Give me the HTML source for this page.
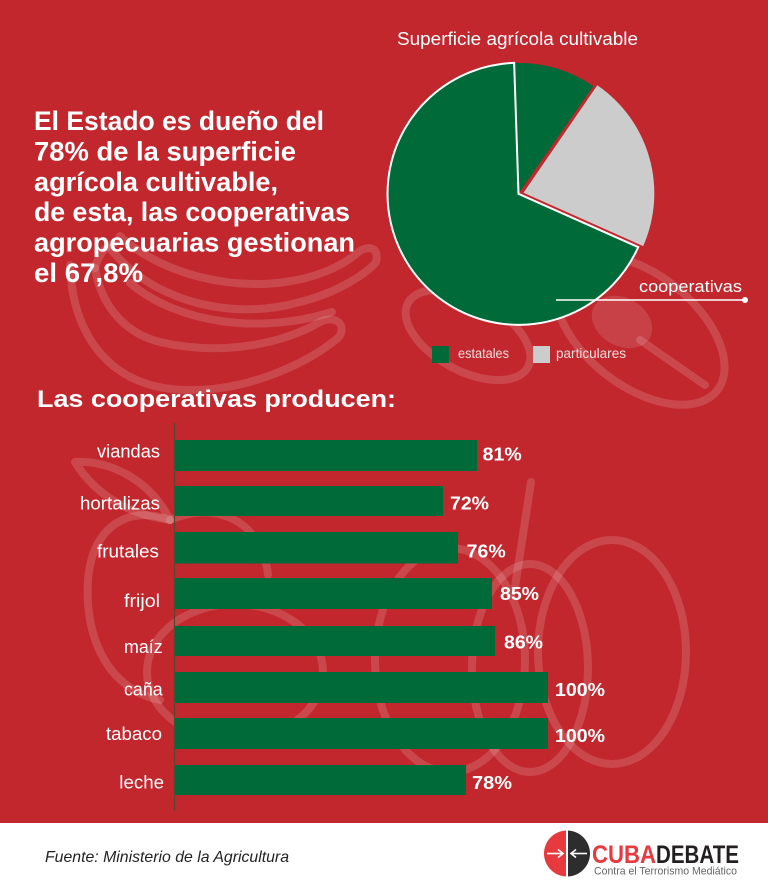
<!DOCTYPE html>
<html><head><meta charset="utf-8"><style>
html,body{margin:0;padding:0;background:#fff;}
svg{display:block;}
</style></head><body>
<svg width="768" height="889" viewBox="0 0 768 889" xmlns="http://www.w3.org/2000/svg" font-family="'Liberation Sans', sans-serif">
<rect x="0" y="0" width="768" height="823" fill="#c1272d"/>
<rect x="0" y="823" width="768" height="66" fill="#ffffff"/>

<!-- background illustrations -->
<g fill="none" stroke="#ffffff" stroke-opacity="0.15" stroke-width="8" stroke-linecap="round" stroke-linejoin="round">
  <!-- bananas -->
  <path d="M70,265 C72,335 110,388 185,390 C245,392 305,365 338,338 C348,326 336,314 320,322 C280,345 220,356 160,342 C120,332 100,300 95,268"/>
  <path d="M110,248 C150,300 230,322 300,302 C340,292 368,272 376,262 C380,246 366,244 355,255 C320,282 260,292 200,277 C160,267 132,248 120,236"/>
  <path d="M130,283 C180,325 262,334 332,312"/>
  <path d="M95,268 C100,250 108,245 115,243"/>
  <!-- avocado / right shapes -->
  <ellipse cx="468" cy="335" rx="68" ry="36" transform="rotate(28 468 335)"/>
  <ellipse cx="640" cy="330" rx="98" ry="56" transform="rotate(38 640 330)"/>
  <line x1="640" y1="340" x2="705" y2="385"/>
  <!-- apple -->
  <path d="M75,462 C110,460 150,480 170,520 C130,515 95,495 75,462 Z"/>
  <path d="M170,520 C130,505 92,525 88,580 C84,640 110,690 160,700"/>
  <path d="M170,520 C215,500 262,520 268,575"/>
  <!-- tomato -->
  <ellipse cx="235" cy="672" rx="88" ry="68"/>
  <path d="M200,652 C220,642 250,642 270,652"/>
  <!-- pumpkin -->
  <path d="M531,482 L515,587"/>
  <ellipse cx="450" cy="660" rx="75" ry="112"/>
  <ellipse cx="612" cy="652" rx="74" ry="112"/>
  <ellipse cx="530" cy="668" rx="58" ry="104"/>
</g>
<ellipse cx="622" cy="322" rx="32" ry="24" fill="#ffffff" fill-opacity="0.12" transform="rotate(30 622 322)"/>

<!-- headline -->
<g fill="#ffffff" font-weight="bold" font-size="27">
  <text x="34" y="130" textLength="290" lengthAdjust="spacingAndGlyphs">El Estado es dueño del</text>
  <text x="34" y="160.5" textLength="262" lengthAdjust="spacingAndGlyphs">78% de la superficie</text>
  <text x="34" y="191" textLength="244" lengthAdjust="spacingAndGlyphs">agrícola cultivable,</text>
  <text x="34" y="221" textLength="316" lengthAdjust="spacingAndGlyphs">de esta, las cooperativas</text>
  <text x="34" y="251.5" textLength="321" lengthAdjust="spacingAndGlyphs">agropecuarias gestionan</text>
  <text x="34" y="282" textLength="109" lengthAdjust="spacingAndGlyphs">el 67,8%</text>
</g>

<!-- pie -->
<text x="397" y="45" font-size="18" fill="#ffffff" textLength="241" lengthAdjust="spacingAndGlyphs">Superficie agrícola cultivable</text>
<path d="M518.5,193.8 L514.15,62.9 A131,131 0 0 1 593.3,86.2 Z" fill="#006a39"/>
<path d="M523.5,192.8 L597.3,85.2 A131,131 0 0 1 643.2,246.1 Z" fill="#cccccc"/>
<path d="M518.5,193.8 L638.2,247.1 A131,131 0 1 1 514.15,62.9 Z" fill="#006a39" stroke="#ffffff" stroke-width="2" stroke-linejoin="miter"/>

<text x="639" y="292" font-size="17" fill="#ffffff" textLength="103" lengthAdjust="spacingAndGlyphs">cooperativas</text>
<line x1="556" y1="300" x2="745" y2="300" stroke="#ffffff" stroke-width="1.5"/>
<circle cx="745" cy="300" r="3" fill="#ffffff"/>

<rect x="432" y="346" width="17" height="17" fill="#006a39"/>
<text x="458" y="358" font-size="14" fill="#f3dede" textLength="51" lengthAdjust="spacingAndGlyphs">estatales</text>
<rect x="533" y="346" width="17" height="17" fill="#cccccc"/>
<text x="556" y="358" font-size="14" fill="#f3dede" textLength="70" lengthAdjust="spacingAndGlyphs">particulares</text>

<!-- bar chart -->
<text x="37" y="407" font-size="24" font-weight="bold" fill="#ffffff" textLength="359" lengthAdjust="spacingAndGlyphs">Las cooperativas producen:</text>

<line x1="174.5" y1="423" x2="174.5" y2="811" stroke="#4d4d33" stroke-width="1.2"/>
<g fill="#006a39">
  <rect x="175" y="440" width="302" height="31"/>
  <rect x="175" y="486" width="268" height="30"/>
  <rect x="175" y="532" width="283" height="31.5"/>
  <rect x="175" y="578" width="317" height="31"/>
  <rect x="175" y="626" width="320" height="30"/>
  <rect x="175" y="672" width="373" height="31"/>
  <rect x="175" y="718" width="373" height="31"/>
  <rect x="175" y="765" width="291" height="30"/>
</g>
<g fill="#ffffff" font-size="18">
  <text x="97" y="457.3" textLength="63" lengthAdjust="spacingAndGlyphs">viandas</text>
  <text x="80" y="509.3" textLength="80" lengthAdjust="spacingAndGlyphs">hortalizas</text>
  <text x="97" y="557.3" textLength="62" lengthAdjust="spacingAndGlyphs">frutales</text>
  <text x="124" y="607" textLength="36" lengthAdjust="spacingAndGlyphs">frijol</text>
  <text x="124" y="653" textLength="38.7" lengthAdjust="spacingAndGlyphs">maíz</text>
  <text x="124" y="695.7" textLength="38.7" lengthAdjust="spacingAndGlyphs">caña</text>
  <text x="106" y="740" textLength="56" lengthAdjust="spacingAndGlyphs">tabaco</text>
  <text x="119.3" y="788.3" textLength="44.7" lengthAdjust="spacingAndGlyphs">leche</text>
</g>
<g fill="#ffffff" font-size="18" font-weight="bold">
  <text x="482.7" y="460.7" textLength="39" lengthAdjust="spacingAndGlyphs">81%</text>
  <text x="450" y="509.3" textLength="39" lengthAdjust="spacingAndGlyphs">72%</text>
  <text x="466.7" y="557.3" textLength="39" lengthAdjust="spacingAndGlyphs">76%</text>
  <text x="500" y="600" textLength="39" lengthAdjust="spacingAndGlyphs">85%</text>
  <text x="504" y="648.7" textLength="39" lengthAdjust="spacingAndGlyphs">86%</text>
  <text x="555" y="696" textLength="50" lengthAdjust="spacingAndGlyphs">100%</text>
  <text x="555" y="742" textLength="50" lengthAdjust="spacingAndGlyphs">100%</text>
  <text x="472" y="789" textLength="40" lengthAdjust="spacingAndGlyphs">78%</text>
</g>

<!-- footer -->
<text x="45" y="862" font-size="16" font-style="italic" fill="#222222" textLength="244" lengthAdjust="spacingAndGlyphs">Fuente: Ministerio de la Agricultura</text>

<!-- logo -->
<path d="M567,830.5 A23,23 0 0 0 567,876.5 Z" fill="#e63a3f"/>
<path d="M567,830.5 A23,23 0 0 1 567,876.5 Z" fill="#2d2d2d"/>
<line x1="567" y1="830.5" x2="567" y2="876.5" stroke="#ffffff" stroke-width="2"/>
<g stroke="#ffffff" stroke-width="1.6" fill="none">
  <line x1="547" y1="853.5" x2="563" y2="853.5"/>
  <polyline points="558,849.5 563,853.5 558,857.5"/>
  <line x1="587" y1="853.5" x2="571" y2="853.5"/>
  <polyline points="576,849.5 571,853.5 576,857.5"/>
</g>
<text x="592" y="863" font-size="25" font-weight="bold" fill="#e63a3f" textLength="64" lengthAdjust="spacingAndGlyphs">CUBA</text>
<text x="656" y="863" font-size="25" font-weight="bold" fill="#231f20" textLength="83" lengthAdjust="spacingAndGlyphs">DEBATE</text>
<text x="594" y="874.5" font-size="11" fill="#666666" textLength="143" lengthAdjust="spacingAndGlyphs">Contra el Terrorismo Mediático</text>
</svg>
</body></html>
